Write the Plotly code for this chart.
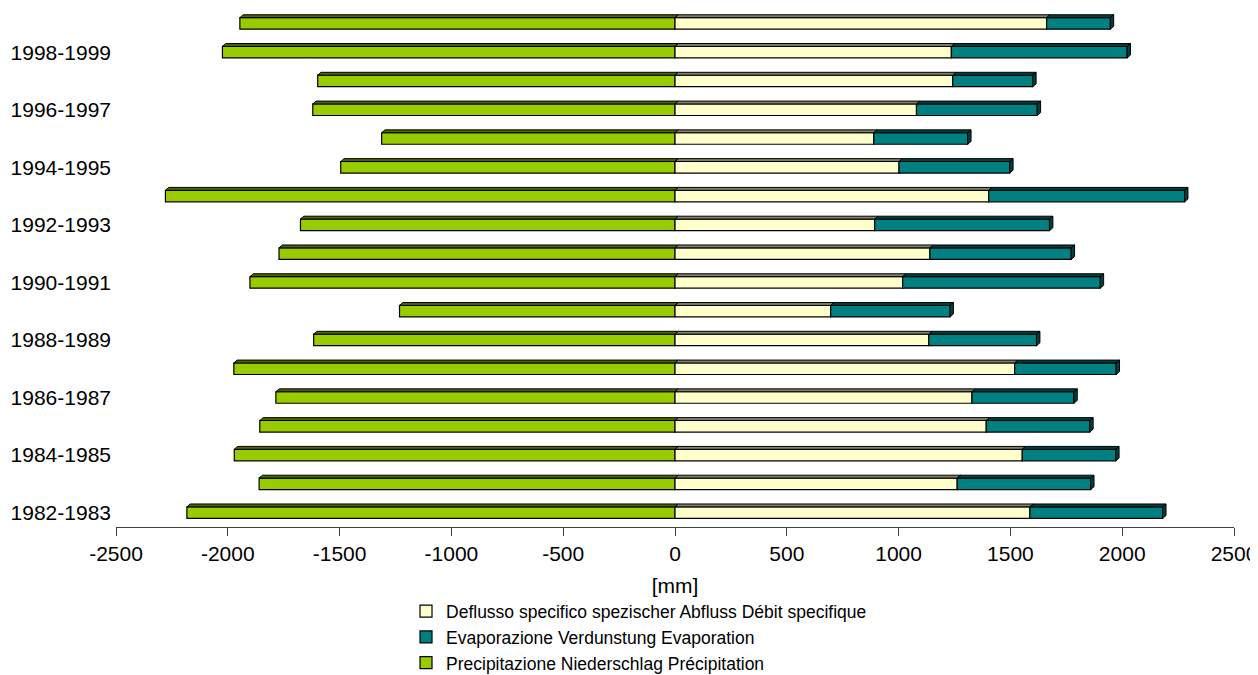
# ============================================================
# Water balance per hydrological year: precipitation vs
# runoff + evaporation, Excel-style 3D horizontal bars
# ============================================================

import plotly.graph_objects as go

# ============================================================
# 📦 Data (bottom row first, in mm)
# ============================================================
YEARS = [
    "1982-1983", "1983-1984", "1984-1985", "1985-1986", "1986-1987",
    "1987-1988", "1988-1989", "1989-1990", "1990-1991", "1991-1992",
    "1992-1993", "1993-1994", "1994-1995", "1995-1996", "1996-1997",
    "1997-1998", "1998-1999", "1999-2000",
]
DEFLUSSO = [1587, 1262, 1553, 1392, 1328, 1519, 1135, 696, 1018,
            1140, 893, 1403, 1002, 889, 1080, 1242, 1236, 1662]
EVAPORAZIONE = [594, 597, 418, 463, 456, 454, 482, 534, 884,
                632, 782, 876, 495, 420, 540, 358, 786, 285]
PRECIPITAZIONE = [2183, 1860, 1971, 1857, 1785, 1973, 1616, 1232, 1901,
                  1771, 1675, 2279, 1495, 1312, 1620, 1598, 2024, 1946]

LABELED_YEARS = YEARS[::2]
X_TICKS = [-2500, -2000, -1500, -1000, -500, 0, 500, 1000, 1500, 2000, 2500]
X_TICK_TEXT = [str(v) for v in X_TICKS]   # plain hyphen, as in the original

NAME_Q = "Deflusso specifico spezischer Abfluss Débit specifique"
NAME_E = "Evaporazione Verdunstung Evaporation"
NAME_P = "Precipitazione Niederschlag Précipitation"

# ============================================================
# 🎨 Style
# ============================================================
FONT = "Liberation Sans, Arial, sans-serif"
GREEN, GREEN_TOP = "#99CC00", "#4D6600"
CREAM, CREAM_TOP = "#FFFFCC", "#80806A"
TEAL, TEAL_TOP = "#008080", "#004040"
BAR_W = 0.4
DEPTH_X = 15     # mm
DEPTH_Y = 0.1    # category units

fig = go.Figure()

fig.add_trace(go.Bar(
    y=YEARS, x=[-p for p in PRECIPITAZIONE], orientation="h", name=NAME_P,
    marker=dict(color=GREEN, line=dict(color="black", width=1.2)),
    width=BAR_W, legendrank=3,
))
fig.add_trace(go.Bar(
    y=YEARS, x=DEFLUSSO, orientation="h", name=NAME_Q,
    marker=dict(color=CREAM, line=dict(color="black", width=1.2)),
    width=BAR_W, legendrank=1,
))
fig.add_trace(go.Bar(
    y=YEARS, x=EVAPORAZIONE, orientation="h", name=NAME_E,
    marker=dict(color=TEAL, line=dict(color="black", width=1.2)),
    width=BAR_W, legendrank=2,
))

# ============================================================
# 🧊 Fake 3D faces (top + right side), built from the data
# ============================================================
def face(x0, x1, yt):
    return (f"M {x0},{yt} L {x0 + DEPTH_X},{yt + DEPTH_Y} "
            f"L {x1 + DEPTH_X},{yt + DEPTH_Y} L {x1},{yt} Z")


shapes = []
for i in range(len(YEARS)):
    yt = i + BAR_W / 2
    yb = i - BAR_W / 2
    q_end = DEFLUSSO[i]
    e_end = DEFLUSSO[i] + EVAPORAZIONE[i]
    segs = [
        (-PRECIPITAZIONE[i], 0, GREEN_TOP),
        (0, q_end, CREAM_TOP),
        (q_end, e_end, TEAL_TOP),
    ]
    for x0, x1, col in segs:
        shapes.append(dict(type="path", xref="x", yref="y", path=face(x0, x1, yt),
                           fillcolor=col, line=dict(color="black", width=1)))
    side = (f"M {e_end},{yb} L {e_end + DEPTH_X},{yb + DEPTH_Y} "
            f"L {e_end + DEPTH_X},{yt + DEPTH_Y} L {e_end},{yt} Z")
    shapes.append(dict(type="path", xref="x", yref="y", path=side,
                       fillcolor=TEAL_TOP, line=dict(color="black", width=1)))

# the page body keeps its default 8px margin, so the figure is 8px smaller;
# autoexpand off so the bottom legend does not squeeze the plot area
fig.update_layout(
    barmode="relative",
    width=1250,
    height=667,
    margin=dict(l=108, r=24, t=1, b=147.5, autoexpand=False),
    paper_bgcolor="white",
    plot_bgcolor="white",
    font=dict(family=FONT, size=21, color="black"),
    shapes=shapes,
    showlegend=True,
    legend=dict(
        x=0.2594, y=-0.128, xanchor="left", yanchor="top",
        font=dict(family=FONT, size=17.5, color="black"),
        bgcolor="rgba(0,0,0,0)", traceorder="normal",
    ),
    xaxis=dict(
        range=[-2500, 2500],
        tickmode="array", tickvals=X_TICKS, ticktext=X_TICK_TEXT,
        showgrid=False, zeroline=False,
        showline=True, linecolor="#404040", linewidth=1,
        ticks="outside", ticklen=8, tickcolor="#404040",
        tickfont=dict(size=21), ticklabelstandoff=0,
        title=dict(text="[mm]", font=dict(size=21), standoff=14),
        automargin=False,
    ),
    yaxis=dict(
        type="category",
        categoryorder="array", categoryarray=YEARS,
        range=[-0.5, len(YEARS) - 0.5],
        tickmode="array", tickvals=LABELED_YEARS, ticktext=LABELED_YEARS,
        showgrid=False, zeroline=False, showline=False,
        ticks="", tickfont=dict(size=21), ticklabelstandoff=4,
        automargin=False,
    ),
)

fig.write_html("out.html")
